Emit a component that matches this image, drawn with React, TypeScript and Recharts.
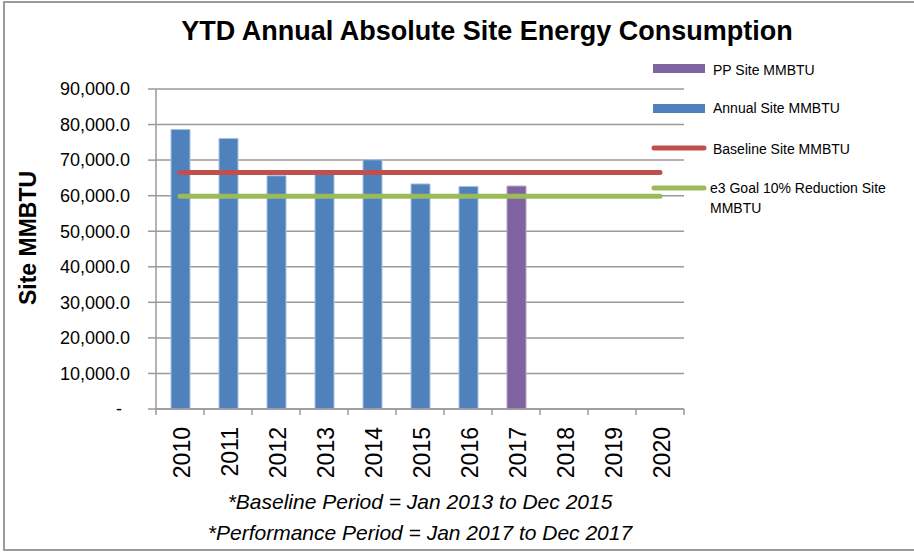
import { ComposedChart, Bar, Line, XAxis, YAxis, CartesianGrid } from "recharts";

const years = ["2010", "2011", "2012", "2013", "2014", "2015", "2016", "2017", "2018", "2019", "2020"];
const annualSite = [78600, 76100, 65600, 66000, 70100, 63300, 62600, null, null, null, null];
const ppSite = [null, null, null, null, null, null, null, 62700, null, null, null];
const baselineSite = [66500, 66500, 66500, 66500, 66500, 66500, 66500, 66500, 66500, 66500, 66500];
const goalSite = [59850, 59850, 59850, 59850, 59850, 59850, 59850, 59850, 59850, 59850, 59850];
const yTicks = [0, 10000, 20000, 30000, 40000, 50000, 60000, 70000, 80000, 90000];

const data = years.map((year, i) => ({
  year,
  annual: annualSite[i],
  pp: ppSite[i],
  baseline: baselineSite[i],
  goal: goalSite[i],
}));

const W = 914;
const H = 554;
const M = { top: 89, right: 230, left: 6, bottom: 65 };
const Y_AXIS_W = 150;
const X_AXIS_H = 80;
const PLOT_W = W - M.left - Y_AXIS_W - M.right;

const BLUE = "#4F81BD";
const PURPLE = "#8064A2";
const RED = "#C0504D";
const GREEN = "#9BBB59";
const GRID = "#9a9a9a";
const FONT = "'Liberation Sans', Arial, sans-serif";

function fmt(v: number) {
  return v.toLocaleString("en-US", { minimumFractionDigits: 1, maximumFractionDigits: 1 });
}

function YTick({ x, y, payload }: any) {
  const zero = payload.value === 0;
  return (
    <text x={x} y={y} dx={zero ? -8 : 0} dy="0.35em" textAnchor="end" fontSize={18} fill="#000" fontFamily={FONT}>
      {zero ? "-" : fmt(payload.value)}
    </text>
  );
}

function YearTick({ x, y, payload, index }: any) {
  const half = PLOT_W / years.length / 2;
  const top = y - 6;
  return (
    <g>
      <line x1={x - half} x2={x - half} y1={top} y2={top + 6} stroke={GRID} strokeWidth={1.5} />
      {index === years.length - 1 && (
        <line x1={x + half} x2={x + half} y1={top} y2={top + 6} stroke={GRID} strokeWidth={1.5} />
      )}
      <text
        transform={`translate(${x + 2}, ${top + 18}) rotate(-90)`}
        textAnchor="end"
        dy="0.36em"
        fontSize={23}
        fill="#000"
        fontFamily={FONT}
      >
        {payload.value}
      </text>
    </g>
  );
}

export default function App() {
  return (
    <div style={{ position: "absolute", left: 0, top: 0, width: W, height: H, overflow: "hidden", background: "#fff" }}>
      <div
        style={{
          position: "absolute",
          left: 3,
          top: 1,
          width: W + 20,
          height: H - 4,
          border: "2px solid #9a9a9a",
          boxSizing: "border-box",
        }}
      />
      <ComposedChart width={W} height={H} data={data} margin={M} style={{ position: "absolute", left: 0, top: 0 }}>
        <CartesianGrid horizontal vertical={false} stroke={GRID} strokeWidth={1.5} />
        <XAxis
          dataKey="year"
          height={X_AXIS_H}
          interval={0}
          tickLine={false}
          tickSize={6}
          tickMargin={0}
          axisLine={{ stroke: GRID, strokeWidth: 1.5 }}
          tick={<YearTick />}
        />
        <YAxis
          width={Y_AXIS_W}
          domain={[0, 90000]}
          ticks={yTicks}
          interval={0}
          tickSize={8}
          tickMargin={18}
          tickLine={{ stroke: GRID, strokeWidth: 1.5 }}
          axisLine={{ stroke: GRID, strokeWidth: 1.5 }}
          tick={<YTick />}
        />
        <Bar dataKey="annual" stackId="s" fill={BLUE} stroke="#a9c1df" strokeWidth={1} barSize={19} isAnimationActive={false} />
        <Bar dataKey="pp" stackId="s" fill={PURPLE} stroke="#b3a2c9" strokeWidth={1} barSize={19} isAnimationActive={false} />
        <Line
          dataKey="baseline"
          stroke={RED}
          strokeWidth={5}
          strokeLinecap="round"
          dot={false}
          activeDot={false}
          isAnimationActive={false}
        />
        <Line
          dataKey="goal"
          stroke={GREEN}
          strokeWidth={5}
          strokeLinecap="round"
          dot={false}
          activeDot={false}
          isAnimationActive={false}
        />
      </ComposedChart>
      <svg width={W} height={H} style={{ position: "absolute", left: 0, top: 0, pointerEvents: "none" }} fontFamily={FONT}>
        <text x={487} y={40} textAnchor="middle" fontSize={27} fontWeight="bold" fill="#000">
          YTD Annual Absolute Site Energy Consumption
        </text>
        <text transform="translate(36, 238) rotate(-90)" textAnchor="middle" fontSize={23} fontWeight="bold" fill="#000">
          Site MMBTU
        </text>

        <rect x={653} y={64} width={52} height={9} fill={PURPLE} />
        <text x={713} y={74.5} fontSize={14} fill="#000">PP Site MMBTU</text>
        <rect x={653} y={104} width={52} height={9} fill={BLUE} />
        <text x={713} y={113} fontSize={14} fill="#000">Annual Site MMBTU</text>
        <line x1={654} x2={704} y1={148} y2={148} stroke={RED} strokeWidth={5} strokeLinecap="round" />
        <text x={713} y={154} fontSize={14} fill="#000">Baseline Site MMBTU</text>
        <line x1={654} x2={704} y1={188} y2={188} stroke={GREEN} strokeWidth={5} strokeLinecap="round" />
        <text x={710} y={193} fontSize={14} fill="#000">e3 Goal 10% Reduction Site</text>
        <text x={710} y={213} fontSize={14} fill="#000">MMBTU</text>

        <text x={420} y={509} textAnchor="middle" fontSize={21} fontStyle="italic" fill="#000">
          *Baseline Period = Jan 2013 to Dec 2015
        </text>
        <text x={420} y={540} textAnchor="middle" fontSize={21} fontStyle="italic" fill="#000">
          *Performance Period = Jan 2017 to Dec 2017
        </text>
      </svg>
    </div>
  );
}
